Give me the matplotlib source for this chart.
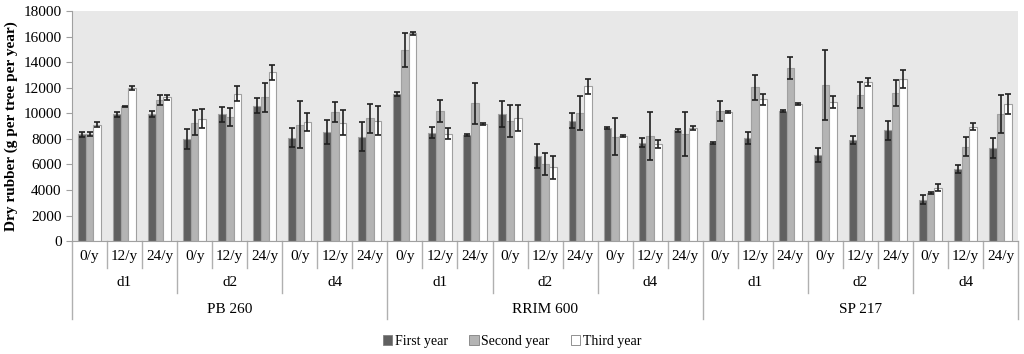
import matplotlib.pyplot as plt
import numpy as np
from matplotlib.patches import Patch

plt.rcParams['font.family'] = ['Liberation Serif', 'DejaVu Serif']

clones = ['PB 260', 'RRIM 600', 'SP 217']
densities = ['d1', 'd2', 'd4']
doses = ['0/y', '12/y', '24/y']
series = ['First year', 'Second year', 'Third year']

first = [8350, 9930, 9930, 7960, 9930, 10580, 8090, 8540, 8170,
         11530, 8490, 8300, 9960, 6650, 9430, 8880, 7700, 8650,
         7650, 8040, 10140, 6730, 7910, 8650, 3250, 5630, 7260]
first_err = [200, 200, 250, 790, 590, 590, 750, 920, 1110,
             150, 430, 80, 1030, 920, 590, 80, 330, 150,
             80, 460, 80, 520, 290, 720, 350, 290, 790]
second = [8350, 10530, 11050, 9270, 9690, 11260, 9090, 10090, 9590,
          14930, 10190, 10770, 9400, 6030, 10010, 8170, 8250, 8360,
          10190, 12020, 13540, 12230, 11450, 11580, 3770, 7390, 9960]
second_err = [150, 60, 400, 970, 690, 1140, 1830, 810, 1150,
              1350, 850, 1600, 1240, 880, 1350, 1420, 1870, 1700,
              790, 1010, 890, 2720, 1010, 1050, 100, 730, 1480]
third = [9090, 11970, 11260, 9560, 11530, 13200, 9330, 9270, 9430,
         16240, 8380, 9140, 9610, 5760, 12100, 8230, 7600, 8830,
         10090, 11110, 10740, 10850, 12420, 12680, 4190, 8960, 10720]
third_err = [200, 150, 200, 750, 590, 580, 720, 960, 1110,
             100, 430, 60, 1020, 900, 590, 60, 330, 150,
             80, 430, 60, 460, 310, 710, 260, 290, 750]

values = [first, second, third]
errors = [first_err, second_err, third_err]
colors = ['#606060', '#b4b4b4', '#ffffff']

fig = plt.figure(figsize=(10.24, 3.54), dpi=100)
ax = fig.add_axes([0.0703, 0.319, 0.924, 0.65])
ax.set_facecolor('#e8e8e8')

n = len(first)
x = np.arange(n)
w = 0.22
for k in range(3):
    ax.bar(x + (k - 1) * w, values[k], w, color=colors[k], edgecolor='#a0a0a0',
           linewidth=0.8, yerr=errors[k], capsize=2.5,
           error_kw=dict(ecolor='#202020', elinewidth=1.2, capthick=1.2), zorder=2)

ax.set_xlim(-0.5, n - 0.5)
ax.set_ylim(0, 18000)
ax.set_yticks(np.arange(0, 18001, 2000))
ax.tick_params(axis='y', labelsize=11, length=4, color='#a0a0a0')
ax.set_xticks([])
for s in ['top', 'right']:
    ax.spines[s].set_visible(False)
for s in ['left', 'bottom']:
    ax.spines[s].set_color('#a0a0a0')
ax.set_ylabel('Dry rubber (g per tree per year)', fontsize=11, fontweight='bold')

# multi-level category axis
trans = ax.get_xaxis_transform()
row1, row2, row3 = -0.068, -0.178, -0.298
lc = '#b0b0b0'
for i in range(n):
    ax.text(i, row1, doses[i % 3], ha='center', va='center', fontsize=11,
            transform=trans)
for j in range(n + 1):
    if j % 9 == 0:
        bottom = -0.34
    elif j % 3 == 0:
        bottom = -0.225
    else:
        bottom = -0.115
    ax.plot([j - 0.5, j - 0.5], [0, bottom], color=lc, lw=1,
            transform=trans, clip_on=False)
for g in range(9):
    ax.text(g * 3 + 1, row2, densities[g % 3], ha='center', va='center',
            fontsize=11, transform=trans)
for c in range(3):
    ax.text(c * 9 + 4, row3, clones[c], ha='center', va='center',
            fontsize=11, transform=trans)

handles = [Patch(facecolor=colors[k], edgecolor='#808080', linewidth=0.6)
           for k in range(3)]
fig.legend(handles, series, loc='center', bbox_to_anchor=(0.5, 0.036), ncol=3,
           frameon=False, fontsize=10, handlelength=0.7, handleheight=0.7,
           handletextpad=0.2, columnspacing=1.5)

fig.savefig('out.png', dpi=100)
